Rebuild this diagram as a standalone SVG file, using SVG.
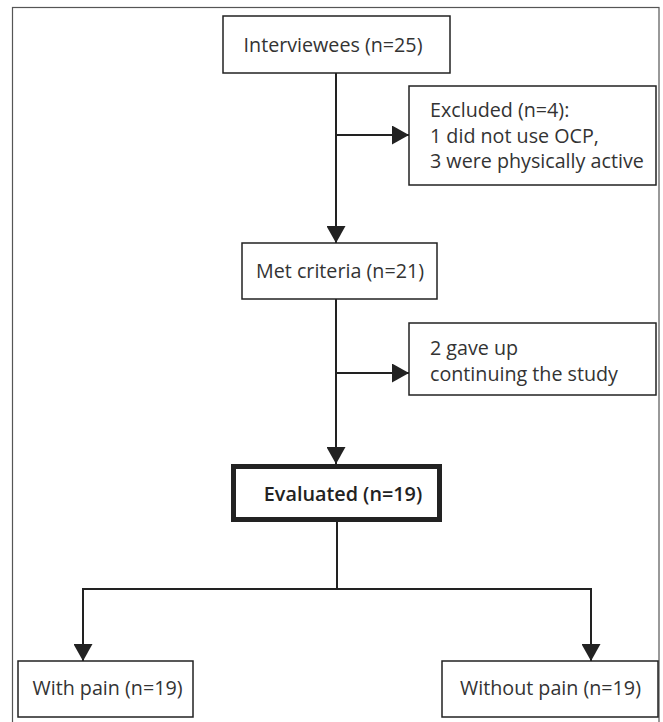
<svg xmlns="http://www.w3.org/2000/svg" width="663" height="722" viewBox="0 0 663 722">
<style>
.box{fill:#fff;stroke:#222;stroke-width:1.5}
.bold{fill:#fff;stroke:#222;stroke-width:5}
.t{font-family:"Open Sans","Liberation Sans",sans-serif;font-size:19.7px;fill:#333}
.tb{font-family:"Open Sans","Liberation Sans",sans-serif;font-size:19.8px;font-weight:600;fill:#222}
.c{text-anchor:middle}
.ln{fill:none;stroke:#222;stroke-width:2}
</style>
<defs>
<marker id="ah" markerUnits="userSpaceOnUse" markerWidth="17" markerHeight="19" refX="17" refY="9.5" orient="auto">
<path d="M0,0 L17,9.5 L0,19 z" fill="#222"/>
</marker>
</defs>
<rect x="12.5" y="7.5" width="646.5" height="730" fill="#fff" stroke="#555" stroke-width="1.2"/>
<g id="connectors">
<line class="ln" x1="336" y1="73" x2="336" y2="243" marker-end="url(#ah)"/>
<line class="ln" x1="336" y1="135" x2="409" y2="135" marker-end="url(#ah)"/>
<line class="ln" x1="336" y1="299" x2="336" y2="464" marker-end="url(#ah)"/>
<line class="ln" x1="336" y1="373" x2="409" y2="373" marker-end="url(#ah)"/>
<polyline class="ln" points="337,522 337,589"/>
<polyline class="ln" points="83,600 83,589 591,589 591,600"/>
<line class="ln" x1="83" y1="589" x2="83" y2="661" marker-end="url(#ah)"/>
<line class="ln" x1="591" y1="589" x2="591" y2="661" marker-end="url(#ah)"/>
</g>
<g id="interviewees">
<rect class="box" x="223" y="16" width="227" height="57"/>
<text class="t c" x="333" y="52">Interviewees (n=25)</text>
</g>
<g id="excluded">
<rect class="box" x="409" y="86" width="247" height="99"/>
<text class="t" x="430" y="117">Excluded (n=4):</text>
<text class="t" x="430" y="143">1 did not use OCP,</text>
<text class="t" x="430" y="168">3 were physically active</text>
</g>
<g id="met">
<rect class="box" x="242" y="243" width="195" height="56"/>
<text class="t c" x="340" y="278">Met criteria (n=21)</text>
</g>
<g id="gaveup">
<rect class="box" x="409" y="323" width="247" height="72"/>
<text class="t" x="430" y="355">2 gave up</text>
<text class="t" x="430" y="381">continuing the study</text>
</g>
<g id="evaluated">
<rect class="bold" x="233.5" y="466.5" width="206" height="53"/>
<text class="tb c" x="343" y="501">Evaluated (n=19)</text>
</g>
<g id="withpain">
<rect class="box" x="18" y="661" width="175" height="56"/>
<text class="t c" x="107.5" y="695">With pain (n=19)</text>
</g>
<g id="withoutpain">
<rect class="box" x="442" y="661" width="216" height="56"/>
<text class="t c" x="550.5" y="695">Without pain (n=19)</text>
</g>
</svg>
